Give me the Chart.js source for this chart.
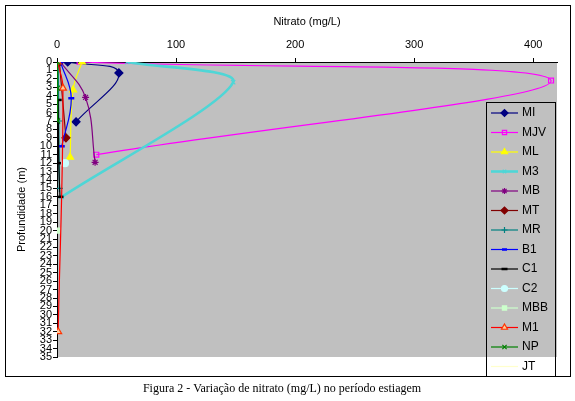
<!DOCTYPE html>
<html>
<head>
<meta charset="utf-8">
<script src="https://cdn.jsdelivr.net/npm/chart.js@4/dist/chart.umd.min.js"></script>
<style>
  html, body { margin: 0; padding: 0; background: #fff; }
  #wrap { width: 575px; height: 401px; position: relative; }
</style>
</head>
<body>
<div id="wrap"><canvas id="grafico" width="575" height="401"></canvas></div>
<script>
// profundidade (m) e nitrato (mg/L) de cada ponto
const seriesNames = ['MI', 'MJV', 'ML', 'M3', 'MB', 'MT', 'MR', 'B1', 'C1', 'C2', 'MBB', 'M1', 'NP', 'JT'];

const miDepth = [0, 1.3, 7.1];     const miNitrate = [9, 52, 16];
const mjvDepth = [0, 2.2, 11];     const mjvNitrate = [19, 415, 33];
const mlDepth = [0, 3.3, 11.3];    const mlNitrate = [21, 13.5, 11];
const m3Depth = [0, 2.4, 16];      const m3Nitrate = [59, 148, 4];
const mbDepth = [0, 4.2, 11.9];    const mbNitrate = [3, 24, 32];
const mtDepth = [0, 9];            const mtNitrate = [2, 7.5];
const mrDepth = [0, 7, 15];        const mrNitrate = [1, 1.5, 2];
const b1Depth = [0, 4.3, 10];      const b1Nitrate = [3, 12, 4];
const c1Depth = [4.5, 12, 16];     const c1Nitrate = [1, 1.5, 2.5];
const c2Depth = [12];              const c2Nitrate = [6.7];
const mbbDepth = [20];             const mbbNitrate = [0.5];
const m1Depth = [0, 3.1, 32];      const m1Nitrate = [0.5, 5, 1];
const npDepth = [0, 3.1, 7];       const npNitrate = [0.5, 0.5, 0.5];
const jtDepth = [];                const jtNitrate = [];

const xTicks = [0, 100, 200, 300, 400];
const depthTicks = [...Array(36).keys()];

const allDepths = [miDepth, mjvDepth, mlDepth, m3Depth, mbDepth, mtDepth, mrDepth, b1Depth, c1Depth, c2Depth, mbbDepth, m1Depth, npDepth, jtDepth];
const allNitrate = [miNitrate, mjvNitrate, mlNitrate, m3Nitrate, mbNitrate, mtNitrate, mrNitrate, b1Nitrate, c1Nitrate, c2Nitrate, mbbNitrate, m1Nitrate, npNitrate, jtNitrate];

// estilo de cada serie (linha, marcador)
const estilos = [
  {line: '#000080', fill: '#000080', point: 'rectRot', r: 4, w: 1.2, t: 0.4},
  {line: '#ff00ff', fill: 'rgba(0,0,0,0)', point: 'rect', r: 3.5, w: 1.2, t: 0.4},
  {line: '#ffff00', fill: '#ffff00', point: 'triangle', r: 4, w: 1.2, t: 0.4},
  {line: '#4fd6d6', fill: '#4fd6d6', point: 'crossRot', r: 3, w: 2.6, t: 0.28},
  {line: '#800080', fill: '#800080', point: 'star', r: 3.5, w: 1.2, t: 0.4},
  {line: '#800000', fill: '#800000', point: 'rectRot', r: 4, w: 1.2, t: 0.4},
  {line: '#008080', fill: '#008080', point: 'cross', r: 3.5, w: 1.2, t: 0.4},
  {line: '#0000ff', fill: '#0000ff', point: 'line', r: 3, w: 1.2, t: 0.4},
  {line: '#000000', fill: '#000000', point: 'line', r: 3.5, w: 1.2, t: 0.4},
  {line: '#ccffff', fill: '#ccffff', point: 'circle', r: 3.5, w: 1.2, t: 0.4},
  {line: '#ccffcc', fill: '#ccffcc', point: 'rect', r: 3.5, w: 1.2, t: 0.4},
  {line: '#ff0000', fill: '#ffcc99', point: 'triangle', r: 4, w: 1.2, t: 0.4},
  {line: '#008000', fill: '#008000', point: 'crossRot', r: 3.5, w: 1.2, t: 0.4},
  {line: '#ffffcc', fill: '#ffffcc', point: false, r: 0, w: 1.2, t: 0.4}
];

const datasets = seriesNames.map((nome, i) => {
  const e = estilos[i];
  return {
    label: nome,
    data: allDepths[i].map((d, k) => ({x: allNitrate[i][k], y: d})),
    showLine: true,
    tension: e.t,
    borderColor: e.line,
    borderWidth: e.w,
    pointStyle: e.point,
    pointRadius: e.r,
    pointBackgroundColor: e.fill,
    pointBorderColor: i === 11 ? '#ff3300' : e.line,
    pointBorderWidth: (e.point === 'line' ? 2.5 : 1.2),
    order: seriesNames.length - i
  };
});

// fundo cinza da area do grafico
const fundoPlot = {
  id: 'fundoPlot',
  beforeDraw(chart) {
    const {ctx, chartArea: a} = chart;
    ctx.save();
    ctx.fillStyle = '#c0c0c0';
    ctx.fillRect(a.left, a.top, a.right - a.left, a.bottom - a.top);
    ctx.restore();
  }
};

// moldura, legenda e legenda da figura
const extras = {
  id: 'extras',
  afterDraw(chart) {
    const ctx = chart.ctx;
    ctx.save();
    ctx.strokeStyle = '#000';
    ctx.lineWidth = 1;
    ctx.strokeRect(5.5, 5.5, 565, 371);

    // legenda
    ctx.strokeRect(486.5, 102.5, 69, 274);
    ctx.font = '12px "Liberation Sans", Arial, sans-serif';
    ctx.textBaseline = 'middle';
    ctx.textAlign = 'left';
    chart.data.datasets.forEach((ds, i) => {
      const y = 113 + i * 19.5;
      ctx.strokeStyle = ds.borderColor;
      ctx.lineWidth = ds.borderWidth;
      ctx.beginPath();
      ctx.moveTo(491, y);
      ctx.lineTo(518, y);
      ctx.stroke();
      if (ds.pointStyle) {
        ctx.fillStyle = ds.pointBackgroundColor;
        ctx.strokeStyle = ds.pointBorderColor;
        ctx.lineWidth = ds.pointBorderWidth;
        Chart.helpers.drawPoint(ctx, {pointStyle: ds.pointStyle, radius: ds.pointRadius - 0.5, borderWidth: ds.pointBorderWidth, rotation: 0}, 504.5, y);
      }
      ctx.fillStyle = '#000';
      ctx.fillText(ds.label, 522, y);
    });

    ctx.font = '12px "Liberation Serif", "Times New Roman", serif';
    ctx.textAlign = 'center';
    ctx.fillText('Figura 2 - Variação de nitrato (mg/L) no período estiagem', 282, 389);
    ctx.restore();
  }
};

const fonteEixo = {family: '"Liberation Sans", Arial, sans-serif', size: 11};

new Chart(document.getElementById('grafico'), {
  type: 'scatter',
  data: {datasets},
  options: {
    responsive: false,
    animation: false,
    layout: {padding: {left: 0, top: 0, right: 18, bottom: 44}},
    plugins: {legend: {display: false}, tooltip: {enabled: false}},
    scales: {
      x: {
        type: 'linear',
        position: 'top',
        min: 0,
        max: 420,
        afterBuildTicks: s => { s.ticks = xTicks.map(v => ({value: v})); },
        afterFit: s => { s.height = 62; },
        ticks: {color: '#000', font: fonteEixo, padding: 6, maxRotation: 0},
        grid: {drawOnChartArea: false, drawTicks: true, tickLength: 4, color: '#000'},
        border: {display: true, color: '#000', width: 1},
        title: {display: true, text: 'Nitrato (mg/L)', color: '#000', font: fonteEixo, padding: {top: 15, bottom: 0}}
      },
      y: {
        type: 'linear',
        reverse: true,
        min: 0,
        max: 35,
        afterBuildTicks: s => { s.ticks = depthTicks.map(v => ({value: v})); },
        afterFit: s => { s.width = 57; },
        ticks: {color: '#000', font: fonteEixo, padding: 1, autoSkip: false},
        grid: {drawOnChartArea: false, drawTicks: true, tickLength: 4, color: '#000'},
        border: {display: true, color: '#000', width: 1},
        title: {display: true, text: 'Profundidade (m)', color: '#000', font: fonteEixo, padding: {top: 15, bottom: 0}}
      }
    }
  },
  plugins: [fundoPlot, extras]
});
</script>
</body>
</html>
